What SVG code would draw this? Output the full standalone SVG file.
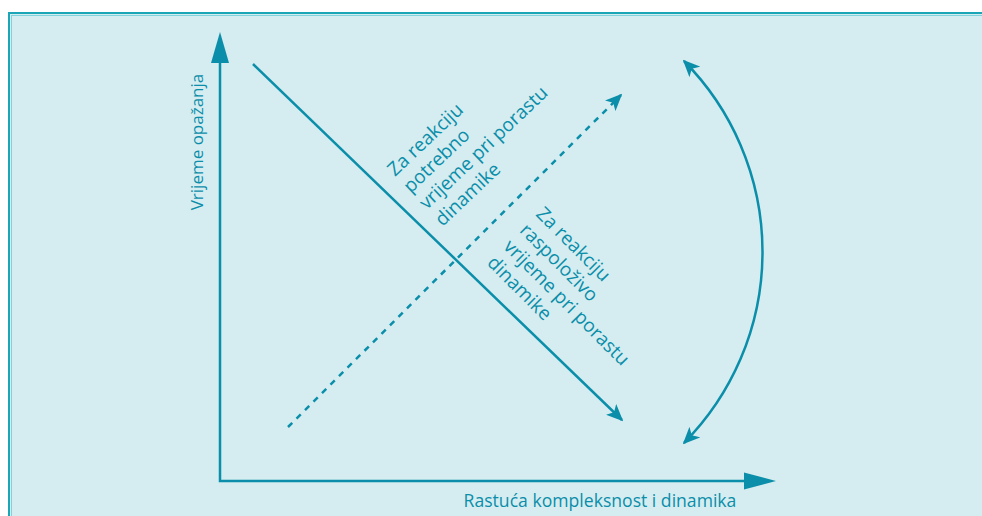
<svg xmlns="http://www.w3.org/2000/svg" width="982" height="516" viewBox="0 0 982 516">
<style>
.ln{stroke:#0b8ea9;stroke-width:2.5;fill:none}
.hd{fill:#0b8ea9}
.tx{font-family:"Open Sans","Noto Sans",sans-serif;fill:#0b8ea9;font-size:19px}
</style>
<defs>
<marker id="ah" viewBox="0 0 10 10" refX="9" refY="5" markerWidth="17" markerHeight="15" markerUnits="userSpaceOnUse" orient="auto-start-reverse" preserveAspectRatio="none">
<path d="M0,0 L10,5 L0,10 L2.5,5 Z" fill="#0b8ea9"/>
</marker>
</defs>
<rect x="0" y="0" width="982" height="516" fill="#ffffff"/>
<rect x="9" y="13" width="1000" height="600" fill="#d5edf1" stroke="#1aa6b7" stroke-width="2"/>
<line x1="11" y1="15.5" x2="982" y2="15.5" stroke="#7fd3dc" stroke-width="1"/>
<line x1="11.5" y1="15" x2="11.5" y2="516" stroke="#7fd3dc" stroke-width="1"/>
<g id="connectors">
<polyline class="ln" points="220,60 220,481 750,481"/>
<polygon class="hd" points="220,32 229,63 211,63"/>
<polygon class="hd" points="776,481 744,472.5 744,489.5"/>
<line class="ln" x1="253" y1="64" x2="622" y2="420" marker-end="url(#ah)"/>
<line class="ln" x1="288" y1="427" x2="621" y2="95" stroke-dasharray="6,6" marker-end="url(#ah)"/>
<path class="ln" d="M684,61 A271.6,271.6 0 0 1 684,443" marker-start="url(#ah)" marker-end="url(#ah)"/>
</g>
<g id="y-label"><text class="tx" transform="translate(203,142) rotate(-90)" text-anchor="middle" style="font-size:17px">Vrijeme opažanja</text></g>
<g id="x-label"><text class="tx" x="600" y="507" text-anchor="middle" style="font-size:17.6px">Rastuća kompleksnost i dinamika</text></g>
<g id="needed">
<text class="tx" transform="translate(395,177) rotate(-43.5)"><tspan x="0" y="0">Za reakciju</tspan><tspan x="0" dy="23">potrebno</tspan><tspan x="0" dy="23">vrijeme pri porastu</tspan><tspan x="0" dy="23">dinamike</tspan></text>
</g>
<g id="available">
<text class="tx" transform="translate(535,215) rotate(45)"><tspan x="0" y="0">Za reakciju</tspan><tspan x="0" dy="23">raspoloživo</tspan><tspan x="0" dy="23">vrijeme pri porastu</tspan><tspan x="0" dy="23">dinamike</tspan></text>
</g>
</svg>
